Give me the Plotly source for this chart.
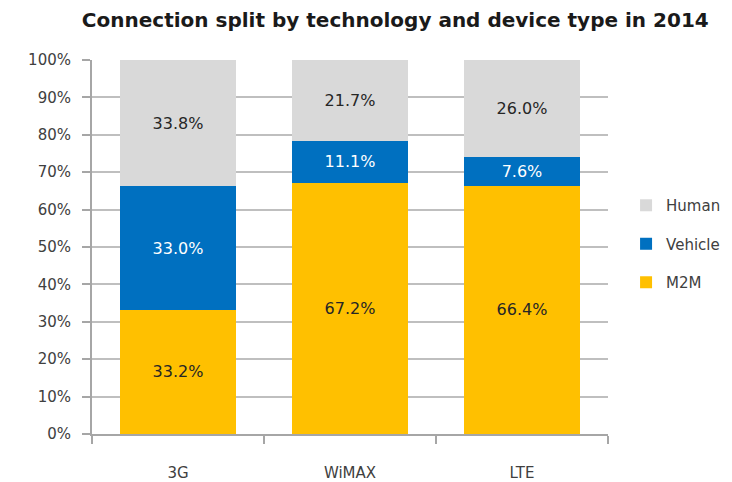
import plotly.graph_objects as go

technologies = ["3G", "WiMAX", "LTE"]
m2m = [33.2, 67.2, 66.4]
vehicle = [33.0, 11.1, 7.6]
human = [33.8, 21.7, 26.0]
y_ticks = [0, 10, 20, 30, 40, 50, 60, 70, 80, 90, 100]
y_tick_labels = [f"{v}%" for v in y_ticks]

FONT = "DejaVu Sans"

# (name, values, fill, label colour, legend rank)
series = [
    ("M2M", m2m, "#FFC000", "#262626", 3),
    ("Vehicle", vehicle, "#0070C0", "#FFFFFF", 2),
    ("Human", human, "#D9D9D9", "#262626", 1),
]

fig = go.Figure()
for name, vals, color, txt_color, rank in series:
    fig.add_trace(go.Bar(
        name=name,
        legendgroup=name,
        legendrank=rank,
        x=technologies,
        y=vals,
        marker=dict(color=color, line=dict(width=0)),
        text=[f"{v:.1f}%" for v in vals],
        textposition="inside",
        insidetextanchor="middle",
        textangle=0,
        textfont=dict(color=txt_color, size=16, family=FONT),
        width=0.67,
    ))

fig.update_layout(
    barmode="stack",
    width=732,
    height=482,
    margin=dict(l=92, r=124, t=60, b=48, autoexpand=False),
    paper_bgcolor="white",
    plot_bgcolor="white",
    font=dict(family=FONT, color="#404040", size=15),
    uniformtext=dict(minsize=16, mode="show"),
    title=dict(
        text="<b>Connection split by technology and device type in 2014</b>",
        x=0.54, xanchor="center", y=0.958, yanchor="middle",
        font=dict(size=20, color="#1a1a1a", family=FONT),
    ),
    legend=dict(
        traceorder="grouped",
        tracegroupgap=16,
        x=1.035, xanchor="left", y=0.508, yanchor="middle",
        font=dict(size=15, color="#404040", family=FONT),
        itemwidth=30,
    ),
    showlegend=True,
)

fig.update_xaxes(
    automargin=False,
    showline=True, linecolor="#A6A6A6", linewidth=2,
    ticks="outside", tickson="boundaries", ticklen=8, tickcolor="#A6A6A6", tickwidth=2,
    ticklabelstandoff=24,
    tickfont=dict(size=15, color="#404040", family=FONT),
    showgrid=False,
)
fig.update_yaxes(
    automargin=False,
    range=[0, 100],
    tickvals=y_ticks, ticktext=y_tick_labels,
    showline=True, linecolor="#A6A6A6", linewidth=2,
    ticks="outside", ticklen=8, tickcolor="#A6A6A6", tickwidth=2,
    ticklabelstandoff=8,
    showgrid=True, gridcolor="#BFBFBF", gridwidth=2,
    tickfont=dict(size=15, color="#404040", family=FONT),
    zeroline=False,
)

fig.write_html("out.html")
